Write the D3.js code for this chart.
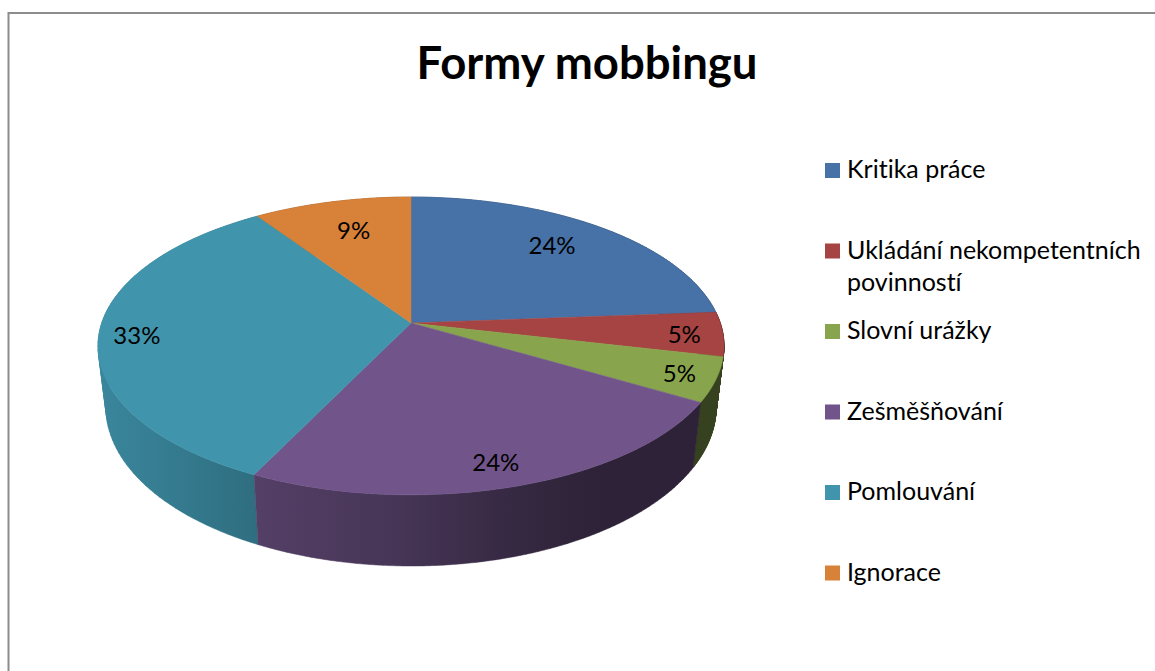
<!DOCTYPE html>
<html lang="cs">
<head>
<meta charset="utf-8">
<title>Formy mobbingu</title>
<script src="https://cdn.jsdelivr.net/npm/d3@7/dist/d3.min.js"></script>
<style>
html,body{margin:0;padding:0;background:#fff;overflow:hidden}
svg{display:block}
text{font-family:Lato,"Open Sans",sans-serif;fill:#000;font-variant-ligatures:none}
</style>
</head>
<body>
<script>
const chartTitle = "Formy mobbingu";
const categories = ["Kritika práce", "Ukládání nekompetentních povinností", "Slovní urážky", "Zešměšňování", "Pomlouvání", "Ignorace"];
const values = [23.8, 4.8, 4.8, 23.8, 33.35, 9.45];
const colors = ["#4672a8", "#a54442", "#88a54d", "#71558a", "#4095ad", "#d88138"];

const W = 1155, H = 671;
const svg = d3.select("body").append("svg").attr("width", W).attr("height", H).attr("viewBox", `0 0 ${W} ${H}`);

// Frame: only the top and left edges fall inside the picture
const frame = svg.append("g").attr("stroke", "#8c8c8c").attr("stroke-width", 2);
frame.append("line").attr("x1", 8).attr("y1", 13).attr("x2", W).attr("y2", 13);
frame.append("line").attr("x1", 8.5).attr("y1", 12).attr("x2", 8.5).attr("y2", H);

svg.append("text").attr("x", 587).attr("y", 79).attr("text-anchor", "middle")
  .attr("font-size", 45.5).attr("font-weight", 700).text(chartTitle);

// Perspective projection of a circular disc
const topFace = {cx: 411, cy: 323, a: 309.3, b: 145.4, p: 0.154};
const baseFace = {cx: 411, cy: 383, a: 301.5, b: 155, p: 0.153};
function project(face, angle, r = 1) {
  const s = Math.sin(angle) * r, c = Math.cos(angle) * r, w = 1 + face.p * c;
  return [face.cx + face.a * s / w, face.cy - face.b * c / w];
}
function arcPoints(face, a0, a1) {
  return d3.range(0, 1.0001, 1 / 80).map(t => project(face, a0 + (a1 - a0) * t));
}
const line = d3.line();
const pie = d3.pie().sort(null).value(d => d)(values);
const total = d3.sum(values);
const pct = d3.format(".0%");

// Horizontal shading of the side wall
const shade = d3.scaleLinear()
  .domain([100, 258, 400, 520, 600, 725])
  .range([0.90, 0.74, 0.62, 0.47, 0.40, 0.40]);
const defs = svg.append("defs");
colors.forEach((col, i) => {
  const g = defs.append("linearGradient").attr("id", "side" + i)
    .attr("gradientUnits", "userSpaceOnUse").attr("x1", 100).attr("x2", 725).attr("y1", 0).attr("y2", 0);
  shade.domain().forEach(x => {
    const k = shade(x), c = d3.rgb(col);
    g.append("stop").attr("offset", (x - 100) / 625)
      .attr("stop-color", d3.rgb(c.r * k, c.g * k, c.b * k).formatHex());
  });
});

// Side walls, back to front: each wall is a strip of quads between the two faces,
// all wound the same way so that the silhouette stays filled.
function wallPath(d) {
  const t = arcPoints(topFace, d.startAngle, d.endAngle);
  const b = arcPoints(baseFace, d.startAngle, d.endAngle);
  return d3.range(t.length - 1).map(k => {
    const quad = [t[k], t[k + 1], b[k + 1], b[k]];
    return line(d3.polygonArea(quad) < 0 ? quad.reverse() : quad) + "Z";
  }).join("");
}
const sideOrder = [0, 5, 1, 4, 2, 3];
svg.append("g").selectAll("path").data(sideOrder).join("path")
  .attr("d", i => wallPath(pie[i]))
  .attr("fill", i => `url(#side${i})`)
  .attr("stroke", i => `url(#side${i})`).attr("stroke-width", 0.5);

// Top face
svg.append("g").selectAll("path").data(pie).join("path")
  .attr("d", d => line([[topFace.cx, topFace.cy]].concat(arcPoints(topFace, d.startAngle, d.endAngle))) + "Z")
  .attr("fill", (d, i) => colors[i])
  .attr("stroke", (d, i) => colors[i]).attr("stroke-width", 0.5);

// Data labels
const labelReach = [0.72, 0.88, 0.88, 0.87, 0.88, 0.74];
const labelNudge = [[1, -7], [-1, 1], [2, 0], [-5, 0], [0, 3], [3, 0]];
svg.append("g").selectAll("text").data(pie).join("text")
  .attr("text-anchor", "middle").attr("font-size", 24)
  .each(function (d, i) {
    const [x, y] = project(topFace, (d.startAngle + d.endAngle) / 2, labelReach[i]);
    d3.select(this).attr("x", x + labelNudge[i][0]).attr("y", y + 9 + labelNudge[i][1]).text(pct(d.value / total));
  });

// Legend
const legendY = d3.scaleLinear().domain([0, 5]).range([170.5, 573]);
const legend = svg.append("g").selectAll("g").data(categories).join("g")
  .attr("transform", (d, i) => `translate(825,${legendY(i)})`);
legend.append("rect").attr("x", 0).attr("y", -7.5).attr("width", 15).attr("height", 15)
  .attr("fill", (d, i) => colors[i]);
legend.append("text").attr("x", 22).attr("font-size", 25)
  .each(function (d) {
    const t = d3.select(this);
    const words = d.split(" ");
    const lines = words.length > 2 ? [words.slice(0, 2).join(" "), words.slice(2).join(" ")] : [d];
    lines.forEach((l, k) => t.append("tspan").attr("x", 22).attr("y", 7.5 + k * 32).text(l));
  });
</script>
</body>
</html>
